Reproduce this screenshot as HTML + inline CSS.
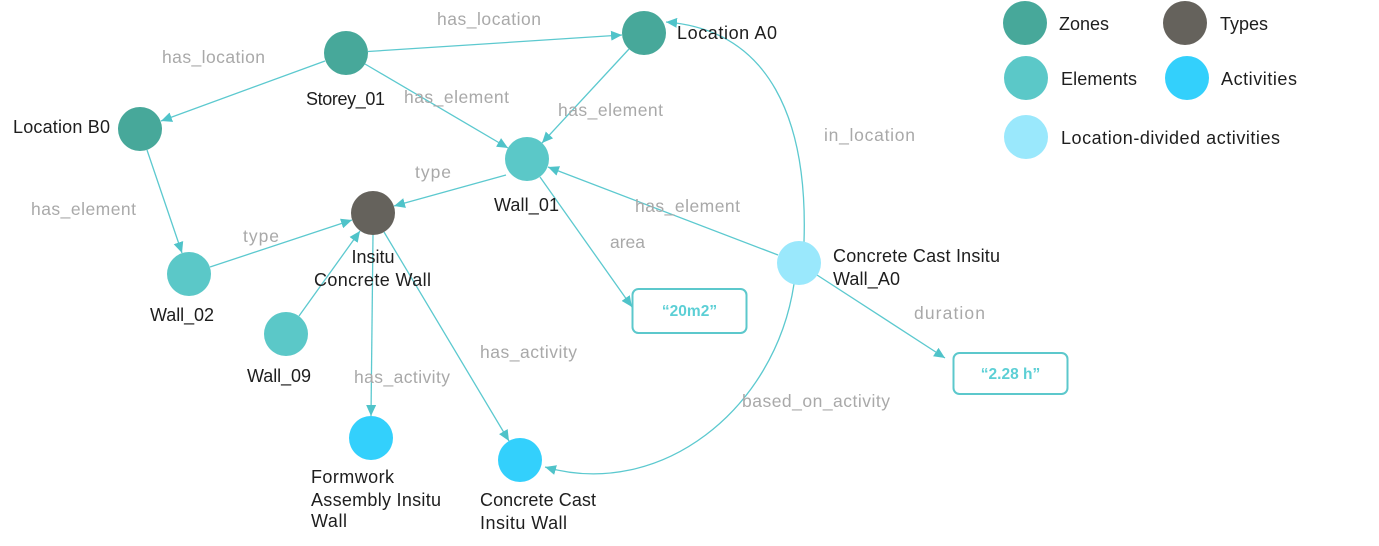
<!DOCTYPE html>
<html><head><meta charset="utf-8">
<style>
html,body{margin:0;padding:0;background:#fff;}
svg{display:block;}
.el{font-family:"Liberation Sans",sans-serif;font-size:17.5px;fill:#a9a9a9;}
.nl{font-family:"Liberation Sans",sans-serif;font-size:18px;fill:#1e1e1e;}
.e{stroke:#5cc9cf;stroke-width:1.3;fill:none;}
.bx{font-family:"Liberation Sans",sans-serif;font-size:15.5px;font-weight:bold;fill:#5ccfd5;}
</style></head>
<body>
<svg width="1379" height="546" viewBox="0 0 1379 546" xmlns="http://www.w3.org/2000/svg">
<defs>
<marker id="a" markerWidth="12" markerHeight="10" refX="11" refY="5" orient="auto" markerUnits="userSpaceOnUse">
<path d="M0,0 L11,5 L0,10 Z" fill="#4fc3c9"/>
</marker>
</defs>
<rect width="1379" height="546" fill="#fff"/>

<!-- edges -->
<line class="e" x1="368" y1="51.5" x2="622" y2="35" marker-end="url(#a)"/>
<line class="e" x1="325" y1="61" x2="161" y2="121" marker-end="url(#a)"/>
<line class="e" x1="365" y1="64" x2="508" y2="148" marker-end="url(#a)"/>
<line class="e" x1="629" y1="49" x2="542" y2="143" marker-end="url(#a)"/>
<line class="e" x1="147" y1="150" x2="182" y2="253" marker-end="url(#a)"/>
<line class="e" x1="506" y1="175" x2="394" y2="206" marker-end="url(#a)"/>
<line class="e" x1="210" y1="267" x2="352" y2="220" marker-end="url(#a)"/>
<line class="e" x1="299" y1="316" x2="360" y2="231" marker-end="url(#a)"/>
<line class="e" x1="373" y1="235" x2="371" y2="416" marker-end="url(#a)"/>
<line class="e" x1="384" y1="232" x2="509" y2="441" marker-end="url(#a)"/>
<line class="e" x1="540" y1="177" x2="632" y2="307" marker-end="url(#a)"/>
<line class="e" x1="778" y1="255" x2="548" y2="167" marker-end="url(#a)"/>
<line class="e" x1="817" y1="275" x2="945" y2="358" marker-end="url(#a)"/>
<path class="e" d="M804 242 C808 120 770 30 666 22" marker-end="url(#a)"/>
<path class="e" d="M794 284 C775 410 660 500 545 467" marker-end="url(#a)"/>

<!-- nodes -->
<circle cx="346" cy="53" r="22" fill="#47a89a"/>
<circle cx="140" cy="129" r="22" fill="#47a89a"/>
<circle cx="644" cy="33" r="22" fill="#47a89a"/>
<circle cx="527" cy="159" r="22" fill="#5bc8c8"/>
<circle cx="373" cy="213" r="22" fill="#65625c"/>
<circle cx="189" cy="274" r="22" fill="#5bc8c8"/>
<circle cx="286" cy="334" r="22" fill="#5bc8c8"/>
<circle cx="371" cy="438" r="22" fill="#33d0fc"/>
<circle cx="520" cy="460" r="22" fill="#33d0fc"/>
<circle cx="799" cy="263" r="22" fill="#9ae8fc"/>

<!-- value boxes -->
<rect x="632.5" y="289" width="114" height="44" rx="6" fill="#fff" stroke="#5cc8cc" stroke-width="2"/>
<text class="bx" x="689.5" y="316" text-anchor="middle">“20m2”</text>
<rect x="953.5" y="353" width="114" height="41" rx="6" fill="#fff" stroke="#5cc8cc" stroke-width="2"/>
<text class="bx" x="1010.5" y="379" text-anchor="middle">“2.28 h”</text>

<!-- edge labels -->
<text class="el" x="437" y="25" textLength="104">has_location</text>
<text class="el" x="162" y="63" textLength="103">has_location</text>
<text class="el" x="404" y="103" textLength="105">has_element</text>
<text class="el" x="558" y="116" textLength="105">has_element</text>
<text class="el" x="824" y="141" textLength="91">in_location</text>
<text class="el" x="415" y="178" textLength="36">type</text>
<text class="el" x="31" y="215" textLength="105">has_element</text>
<text class="el" x="243" y="242" textLength="36">type</text>
<text class="el" x="635" y="212" textLength="105">has_element</text>
<text class="el" x="610" y="248" textLength="35">area</text>
<text class="el" x="480" y="358" textLength="97">has_activity</text>
<text class="el" x="354" y="383" textLength="96">has_activity</text>
<text class="el" x="914" y="319" textLength="71">duration</text>
<text class="el" x="742" y="407" textLength="148">based_on_activity</text>

<!-- node labels -->
<text class="nl" x="306" y="105" textLength="79">Storey_01</text>
<text class="nl" x="13" y="133" textLength="97">Location B0</text>
<text class="nl" x="677" y="39" textLength="100">Location A0</text>
<text class="nl" x="494" y="211" textLength="65">Wall_01</text>
<text class="nl" x="373" y="263" text-anchor="middle">Insitu</text>
<text class="nl" x="314" y="286" textLength="117">Concrete Wall</text>
<text class="nl" x="150" y="321" textLength="64">Wall_02</text>
<text class="nl" x="247" y="382" textLength="64">Wall_09</text>
<text class="nl" x="311" y="483" textLength="83">Formwork</text>
<text class="nl" x="311" y="506" textLength="130">Assembly Insitu</text>
<text class="nl" x="311" y="527" textLength="36">Wall</text>
<text class="nl" x="480" y="506" textLength="116">Concrete Cast</text>
<text class="nl" x="480" y="529" textLength="87">Insitu Wall</text>
<text class="nl" x="833" y="262" textLength="167">Concrete Cast Insitu</text>
<text class="nl" x="833" y="285" textLength="67">Wall_A0</text>

<!-- legend -->
<circle cx="1025" cy="23" r="22" fill="#47a89a"/>
<text class="nl" x="1059" y="30" textLength="50">Zones</text>
<circle cx="1185" cy="23" r="22" fill="#65625c"/>
<text class="nl" x="1220" y="30" textLength="48">Types</text>
<circle cx="1026" cy="78" r="22" fill="#5bc8c8"/>
<text class="nl" x="1061" y="85" textLength="76">Elements</text>
<circle cx="1187" cy="78" r="22" fill="#33d0fc"/>
<text class="nl" x="1221" y="85" textLength="76">Activities</text>
<circle cx="1026" cy="137" r="22" fill="#9ae8fc"/>
<text class="nl" x="1061" y="144" textLength="219">Location-divided activities</text>
</svg>
</body></html>
